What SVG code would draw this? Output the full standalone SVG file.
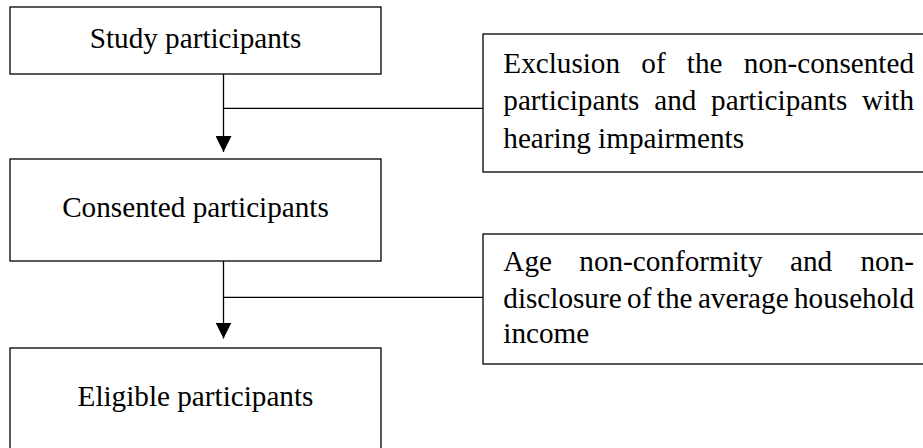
<svg xmlns="http://www.w3.org/2000/svg" width="923" height="448" viewBox="0 0 923 448">
  <style>
    .box { fill: #ffffff; stroke: #000000; stroke-width: 1.3; }
    .conn { fill: none; stroke: #000000; stroke-width: 1.3; }
    .t { font-family: "Liberation Serif", "Times New Roman", serif; font-size: 29.2px; fill: #000000; }
    .c { text-anchor: middle; }
    .e { text-anchor: end; }
  </style>
  <defs>
    <marker id="arrow" markerUnits="userSpaceOnUse" viewBox="0 0 16 16" refX="16" refY="8" markerWidth="16" markerHeight="16" orient="auto">
      <path d="M0,0 L16,8 L0,16 z" fill="#000000"/>
    </marker>
  </defs>
  <rect width="923" height="448" fill="#ffffff"/>

  <g id="connectors">
    <line class="conn" x1="223.5" y1="74" x2="223.5" y2="152" marker-end="url(#arrow)"/>
    <line class="conn" x1="223.5" y1="108.3" x2="483" y2="108.3"/>
    <line class="conn" x1="223.5" y1="261" x2="223.5" y2="338.5" marker-end="url(#arrow)"/>
    <line class="conn" x1="223.5" y1="297.3" x2="483" y2="297.3"/>
  </g>

  <g id="study">
    <rect class="box" x="10" y="7" width="371" height="67"/>
    <text class="t c" x="195.5" y="48.3">Study participants</text>
  </g>

  <g id="consented">
    <rect class="box" x="10" y="159" width="371" height="102"/>
    <text class="t c" x="195.5" y="217">Consented participants</text>
  </g>

  <g id="eligible">
    <rect class="box" x="10" y="348" width="371" height="110"/>
    <text class="t c" x="195.5" y="405.7">Eligible participants</text>
  </g>

  <g id="exclusion1">
    <rect class="box" x="483" y="34" width="450" height="138"/>
    <text class="t" y="72.8"><tspan x="503.3">Exclusion</tspan><tspan x="641.3">of</tspan><tspan x="686.8">the</tspan></text>
    <text class="t e" x="914" y="72.8">non-consented</text>
    <text class="t" y="110.3"><tspan x="503.3">participants</tspan><tspan x="654.2">and</tspan><tspan x="711.1">participants</tspan></text>
    <text class="t e" x="914" y="110.3">with</text>
    <text class="t" x="503.3" y="148">hearing impairments</text>
  </g>

  <g id="exclusion2">
    <rect class="box" x="483" y="234" width="450" height="130"/>
    <text class="t" y="270.7"><tspan x="503.3">Age</tspan><tspan x="579.3">non-conformity</tspan><tspan x="790">and</tspan></text>
    <text class="t e" x="914" y="270.7">non-</text>
    <text class="t" y="307.7"><tspan x="503.3">disclosure</tspan><tspan x="627.1">of</tspan><tspan x="656.8">the</tspan><tspan x="697.9">average</tspan></text>
    <text class="t e" x="914" y="307.7">household</text>
    <text class="t" x="503.3" y="343.3">income</text>
  </g>
</svg>
